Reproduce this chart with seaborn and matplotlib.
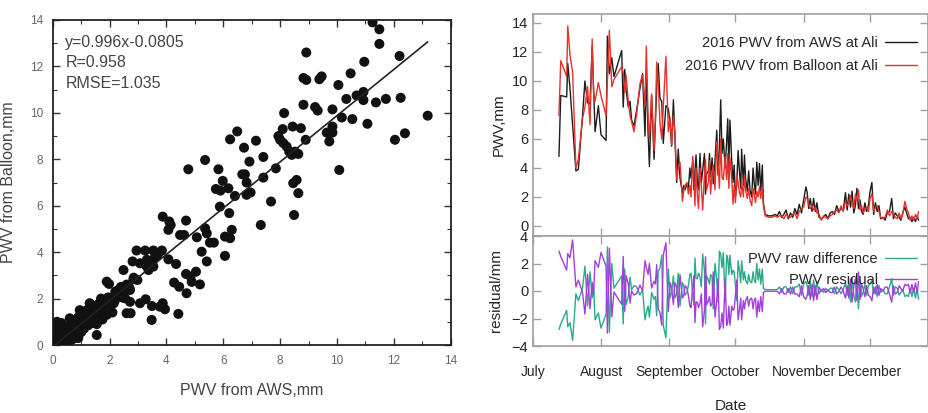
import numpy as np
import pandas as pd
import matplotlib
matplotlib.use("Agg")
import matplotlib.pyplot as plt
import matplotlib.dates as mdates
from matplotlib.ticker import MultipleLocator
import seaborn as sns

# ---------------- data: scatter (left) ----------------
aws_x = [11.25, 11.49, 11.49, 8.92, 12.2, 10.96, 8.82, 8.92, 9.38, 9.46, 10.48, 10.05, 10.93, 10.69,
         10.33, 10.93, 11.37, 11.72, 12.24, 8.82, 9.23, 9.32, 9.84, 10.17, 10.54, 11.07, 13.19, 8.14,
         8.44, 8.09, 8.73, 9.84, 9.64, 9.84, 12.39, 12.04, 9.73, 8.9, 6.24, 6.49, 7.15, 6.73, 7.94,
         8.0, 8.11, 8.23, 8.32, 8.52, 8.64, 8.41, 7.41, 6.92, 5.36, 4.77, 5.83, 10.08, 7.85, 6.67,
         6.76, 7.41, 6.82, 8.58, 8.46, 5.98, 5.74, 5.9, 6.18, 6.41, 6.82, 6.96, 8.64, 7.68, 5.88,
         6.21, 8.49, 7.32, 3.87, 4.1, 4.15, 4.69, 4.07, 5.36, 5.42, 4.48, 4.62, 5.07, 6.3, 6.06, 6.24,
         5.53, 5.67, 6.06, 4.07, 2.95, 3.25, 3.54, 3.84, 3.31, 3.4, 3.54, 3.07, 3.37, 4.34, 2.81, 5.42,
         5.24, 4.69, 4.85, 5.04, 4.27, 4.45, 4.71, 5.18, 4.89, 2.49, 1.9, 1.98, 2.31, 2.43, 2.55, 2.72,
         2.64, 2.84, 2.98, 3.07, 3.27, 3.49, 3.77, 3.87, 3.95, 3.48, 4.42, 2.6, 2.74, 2.72, 1.55,
         3.5, 3.6, 3.3, 3.7,
         2.2, 2.3, 2.4, 2.5, 2.6, 2.45, 2.7, 2.85, 2.2,
         0.05, 0.1, 0.15, 0.2, 0.25, 0.3, 0.35, 0.2, 0.15, 0.3, 0.4, 0.45, 0.5, 0.4, 0.55, 0.6, 0.65,
         0.7, 0.75, 0.8, 0.85, 0.9, 0.95, 1.0, 1.05, 1.1, 1.15, 1.2, 1.25, 1.3, 1.35, 1.4, 1.45, 1.5,
         1.55, 1.6, 1.65, 1.7, 1.75, 1.8, 1.85, 1.9, 1.95, 2.0, 2.05, 2.1, 2.15, 0.1, 0.25, 0.35,
         0.55, 0.6, 0.7, 1.0, 1.25, 0.9, 0.05, 0.12]
balloon_y = [13.9, 13.6, 12.97, 12.6, 12.45, 12.2, 11.5, 11.42, 11.45, 11.57, 11.7, 11.2, 10.9, 10.75,
             10.6, 10.55, 10.45, 10.6, 10.65, 10.35, 10.25, 10.1, 10.15, 9.8, 9.73, 9.53, 9.88, 9.99,
             9.41, 9.3, 9.34, 9.41, 9.15, 9.15, 9.12, 8.84, 8.77, 8.84, 8.86, 9.2, 8.8, 8.5, 9.0,
             8.84, 8.7, 8.55, 8.33, 8.33, 8.23, 8.19, 8.1, 7.9, 7.97, 7.57, 7.57, 7.54, 7.61, 7.35,
             7.35, 7.21, 7.0, 7.11, 6.97, 7.07, 6.72, 6.65, 6.75, 6.42, 6.47, 6.57, 6.54, 6.18, 5.96,
             5.68, 5.6, 5.17, 5.53, 5.32, 5.17, 5.36, 4.96, 5.03, 4.81, 4.74, 4.74, 4.64, 4.96, 4.67, 4.6,
             4.41, 4.41, 3.84, 3.69, 4.07, 4.07, 4.07, 4.07, 3.67, 3.52, 3.38, 3.52, 3.23, 3.49, 3.6, 3.6,
             4.02, 3.06, 2.95, 3.16, 2.69, 2.51, 2.23, 2.61, 2.72, 3.23, 2.73, 2.63, 2.37, 2.23, 2.01, 2.37,
             2.51, 2.83, 2.8, 1.8, 1.97, 1.68, 1.65, 1.8, 1.54, 1.08, 1.34, 1.37, 1.37, 1.86, 0.43,
             3.6, 3.8, 3.4, 3.9,
             2.3, 2.1, 2.5, 2.35, 2.6, 2.05, 2.45, 2.9, 1.95,
             0.05, 0.2, 0.1, 0.35, 0.05, 0.25, 0.5, 0.8, 1.0, 0.95, 0.15, 0.4, 0.7, 0.8, 0.3, 0.55, 0.9,
             0.6, 1.05, 0.45, 0.8, 1.2, 1.5, 0.9, 1.3, 0.7, 1.1, 1.5, 0.85, 1.8, 1.2, 0.95, 1.6, 1.3,
             0.9, 1.75, 1.4, 2.0, 1.1, 1.9, 1.6, 1.3, 2.05, 1.7, 1.95, 1.4, 1.8, 0.55, 0.65, 0.3,
             0.05, 1.15, 0.25, 0.55, 1.5, 0.3, 0.9, 0.4]
fit_slope = 0.996
fit_intercept = -0.0805
fit_text = ["y=0.996x-0.0805", "R=0.958", "RMSE=1.035"]

# ---------------- data: time series (right) ----------------
day_offsets = [11.8, 12.6, 15.3, 15.8, 16.8, 18.0, 19.5, 20.6, 22.5, 23.6, 24.8, 25.9, 26.9, 27.5, 28.2,
               29.7, 30.9, 33.2, 33.8, 34.7, 35.8, 36.8, 40.3, 41.0, 41.7, 42.3, 43.3, 44.1, 44.8, 45.9,
               47.1, 48.6, 49.8, 50.9, 51.5, 52.3, 52.9, 53.9, 55.0, 55.6, 56.2, 56.9, 57.7, 58.5, 59.2,
               60.4, 61.5, 62.3, 63.0, 63.8, 64.5, 65.3, 66.0, 66.8, 67.9, 68.5, 69.1, 70.0, 70.6, 71.3,
               71.8, 72.6, 73.1, 73.6, 74.1, 74.7, 75.2, 75.9, 76.5, 77.1, 77.9, 78.4, 78.9, 79.7, 80.2,
               80.7, 81.4, 81.9, 82.7, 83.5, 84.1, 84.7, 85.3, 85.9, 86.5, 87.3, 88.0, 88.5, 89.0, 89.5,
               90.3, 90.9, 91.4, 92.0, 92.6, 93.2, 93.8, 94.4, 94.8, 95.6, 96.1, 96.6, 97.4, 98.0, 98.6,
               99.4, 100.0, 100.5, 101.1, 101.7, 102.3, 102.9, 103.5, 104.2, 104.7, 105.5, 107.0, 108.5,
               110.0, 111.0, 112.0, 113.0, 114.0, 115.0, 116.0, 117.0, 118.0, 119.0, 120.0, 121.0, 122.0,
               123.0, 124.0, 124.6, 125.3, 126.0, 126.8, 127.5, 128.3, 129.0, 130.0, 131.0, 132.0, 133.0,
               134.0, 135.0, 136.0, 137.0, 138.0, 139.0, 140.0, 141.0, 142.0, 142.8, 143.5, 144.3, 145.0,
               145.8, 146.5, 147.2, 147.9, 148.6, 149.3, 150.0, 150.8, 151.6, 152.4, 153.2, 154.0, 154.8,
               155.6, 156.4, 157.2, 158.0, 159.0, 160.0, 161.0, 162.0, 163.0, 163.8, 164.6, 165.5, 166.4,
               167.2, 168.0, 169.0, 169.8, 170.6, 171.4, 172.2, 173.0, 173.8, 174.6, 175.2]
pwv_aws = [4.8, 9.0, 8.9, 11.2, 9.5, 7.0, 3.8, 3.9, 7.6, 10.0, 8.5, 8.4, 12.4, 9.6, 6.5,
           8.3, 6.3, 5.9, 13.1, 10.5, 11.6, 10.3, 12.1, 8.2, 10.8, 9.4, 8.2, 8.6, 7.3, 6.9,
           8.0, 9.5, 10.5, 6.2, 10.8, 6.4, 4.1, 9.0, 4.6, 7.0, 9.5, 11.2, 8.8, 8.6, 5.7,
           8.3, 8.1, 7.0, 5.5, 8.7, 6.0, 3.0, 5.3, 3.3, 2.3, 2.8, 2.5, 2.9, 2.6, 4.0,
           3.3, 4.5, 2.5, 3.8, 4.9, 3.0, 2.5, 5.0, 3.0, 3.8, 5.0, 2.2, 3.6, 3.8, 5.0,
           3.4, 4.7, 2.9, 4.5, 6.6, 3.5, 5.5, 8.7, 5.0, 6.0, 4.0, 5.8, 7.4, 3.8, 7.3,
           4.5, 3.0, 4.2, 2.0, 2.9, 5.2, 3.8, 2.6, 5.3, 2.8, 4.9, 3.3, 2.4, 3.8, 2.5,
           2.0, 4.0, 3.0, 2.2, 4.4, 2.8, 4.3, 2.4, 4.2, 1.6, 0.8, 0.7, 0.7,
           0.8, 0.7, 1.0, 0.6, 0.8, 1.1, 0.5, 0.9, 0.6, 1.2, 0.8, 1.5, 0.9,
           1.8, 2.7, 2.3, 1.2, 1.9, 1.0, 1.9, 1.0, 1.6, 0.6, 0.5, 0.6, 0.8,
           0.5, 0.9, 1.0, 0.8, 1.4, 1.0, 1.2, 1.1, 2.3, 1.1, 2.2, 1.3, 2.4,
           0.9, 1.4, 2.6, 1.2, 1.8, 1.0, 0.8, 1.6, 1.0, 1.4, 2.4, 3.0, 0.8,
           1.6, 1.0, 1.4, 0.5, 0.6, 0.4, 0.9, 1.0, 1.9, 0.5, 0.9, 0.7, 0.6,
           0.4, 0.9, 1.3, 0.9, 0.5, 0.6, 0.3, 0.6, 0.3, 0.7, 0.4]
pwv_balloon = [7.6, 11.4, 10.3, 13.8, 11.8, 10.6, 4.0, 4.6, 7.4, 8.2, 9.6, 7.0, 12.9, 9.2, 8.6,
               9.9, 9.0, 7.6, 9.9, 13.5, 9.6, 10.1, 11.0, 10.6, 9.2, 10.4, 8.6, 7.6, 7.2, 6.5,
               7.7, 9.8, 10.4, 8.3, 12.4, 7.5, 6.0, 9.1, 5.2, 7.4, 11.3, 9.8, 7.1, 6.0, 8.2,
               11.7, 6.5, 7.5, 5.6, 7.6, 6.5, 3.2, 4.0, 4.4, 1.7, 2.4, 2.8, 3.0, 2.2, 2.8,
               2.0, 4.8, 3.5, 1.4, 4.0, 2.1, 1.2, 4.0, 2.7, 1.1, 3.5, 4.6, 2.5, 3.0, 4.5,
               2.2, 3.7, 4.2, 2.5, 5.8, 4.3, 2.6, 6.0, 3.3, 3.2, 4.8, 3.2, 5.0, 2.6, 4.7,
               3.3, 1.5, 2.8, 1.6, 3.6, 3.0, 2.3, 2.0, 3.1, 2.0, 3.5, 2.5, 1.9, 2.6, 1.8,
               1.4, 2.6, 2.2, 1.6, 2.4, 2.0, 2.7, 1.9, 2.6, 1.4, 0.7, 0.6, 0.6,
               0.7, 0.6, 0.7, 0.7, 0.5, 0.8, 0.6, 0.6, 0.8, 0.9, 0.5, 1.0, 1.2,
               1.3, 2.0, 1.9, 1.5, 1.2, 1.4, 1.1, 1.3, 0.9, 0.8, 0.4, 0.7, 0.6,
               0.5, 0.7, 0.8, 1.0, 1.1, 0.9, 1.4, 1.0, 1.7, 1.4, 1.6, 2.1, 1.5,
               1.2, 2.2, 1.8, 2.5, 1.1, 1.4, 0.9, 1.1, 1.3, 1.0, 1.9, 2.2, 1.0,
               1.3, 1.4, 1.0, 0.6, 0.5, 0.6, 1.1, 0.7, 1.0, 0.8, 0.6, 0.5, 0.9,
               0.5, 0.8, 1.7, 1.2, 0.9, 0.4, 0.7, 0.4, 0.8, 0.5, 1.0]
month_labels = ["July", "August", "September", "October", "November", "December"]
series_labels = ["2016 PWV from AWS at Ali", "2016 PWV from Balloon at Ali"]
resid_labels = ["PWV raw difference", "PWV residual"]

# ---------------- derived tables ----------------
start = pd.Timestamp("2016-07-01")
dates = start + pd.to_timedelta(day_offsets, unit="D")
ts = pd.DataFrame({"date": dates, "aws": pwv_aws, "balloon": pwv_balloon})
ts["diff"] = ts["aws"] - ts["balloon"]
ts["resid"] = ts["balloon"] - (fit_slope * ts["aws"] + fit_intercept)
sc = pd.DataFrame({"aws": aws_x, "balloon": balloon_y})
xfit = np.array([min(aws_x), max(aws_x)])
fit_df = pd.DataFrame({"x": xfit, "y": fit_slope * xfit + fit_intercept})

# ---------------- style ----------------
sns.set_theme(style="white")
plt.rcParams["font.family"] = ["Liberation Sans", "DejaVu Sans"]
narrow = ["Liberation Sans Narrow", "Liberation Sans", "DejaVu Sans"]

fig = plt.figure(figsize=(9.29, 4.13), dpi=100)

# ---------------- left: scatter ----------------
ax1 = fig.add_axes([52.7 / 929, 1 - 345 / 413, 398 / 929, 325 / 413])
sns.scatterplot(data=sc, x="aws", y="balloon", ax=ax1, color="#111111", s=52,
                edgecolor="none", legend=False, zorder=3)
sns.lineplot(data=fit_df, x="x", y="y", ax=ax1, color="#222222", lw=1.2, zorder=4)
ax1.set_xlim(0, 14)
ax1.set_ylim(0, 14)
ax1.xaxis.set_major_locator(MultipleLocator(2))
ax1.yaxis.set_major_locator(MultipleLocator(2))
ax1.xaxis.set_minor_locator(MultipleLocator(1))
ax1.yaxis.set_minor_locator(MultipleLocator(1))
ax1.tick_params(which="both", direction="in", top=True, right=True, bottom=True, left=True,
                colors="#333333", labelcolor="#666666", labelsize=8.5)
ax1.tick_params(which="major", length=5, width=1.0, pad=7)
ax1.tick_params(which="minor", length=3, width=0.8)
for s in ax1.spines.values():
    s.set_color("#222222")
    s.set_linewidth(1.3)
ax1.set_xlabel("PWV from AWS,mm", fontsize=11.5, color="#444444", labelpad=12)
ax1.set_ylabel("PWV from Balloon,mm", fontsize=11.5, color="#444444", labelpad=10)
for i, t in enumerate(fit_text):
    ax1.text(0.032, 0.93 - i * 0.062, t, transform=ax1.transAxes, fontsize=11.5,
             color="#444444", va="center", ha="left")

# ---------------- right: time series ----------------
xl = (start, start + pd.Timedelta(days=179.5))
ax2 = fig.add_axes([533 / 929, 1 - 236 / 413, 395 / 929, 222 / 413])
ax3 = fig.add_axes([533 / 929, 1 - 346 / 413, 395 / 929, 110 / 413], sharex=ax2)

sns.lineplot(data=ts, x="date", y="aws", ax=ax2, color="#1c1c1c", lw=1.0,
             label=series_labels[0], zorder=2)
sns.lineplot(data=ts, x="date", y="balloon", ax=ax2, color="#e8312b", lw=1.0,
             label=series_labels[1], zorder=3)
ax2.set_ylim(-0.69, 14.62)
ax2.set_yticks(range(0, 15, 2))
ax2.set_ylabel("PWV,mm", fontsize=11, family=narrow, labelpad=4)
ax2.set_xlabel("")
ax2.legend(loc="upper right", bbox_to_anchor=(1.006, 0.96), frameon=False,
           markerfirst=False, handlelength=2.2, handletextpad=0.5,
           labelspacing=0.65, prop={"family": narrow, "size": 10.5})

sns.lineplot(data=ts, x="date", y="diff", ax=ax3, color="#2aaa8a", lw=1.0,
             label=resid_labels[0], zorder=2)
sns.lineplot(data=ts, x="date", y="resid", ax=ax3, color="#a23fdc", lw=1.0,
             label=resid_labels[1], zorder=3)
ax3.set_ylim(-4, 4)
ax3.set_yticks([-4, -2, 0, 2, 4])
ax3.set_ylabel("residual/mm", fontsize=11, family=narrow, labelpad=6)
ax3.set_xlabel("Date", fontsize=11, family=narrow, labelpad=14)
ax3.legend(loc="upper right", bbox_to_anchor=(1.006, 0.975), frameon=False,
           markerfirst=False, handlelength=2.2, handletextpad=0.5,
           labelspacing=0.5, prop={"family": narrow, "size": 10.5})

ax3.set_xlim(*xl)
ax3.xaxis.set_major_locator(mdates.MonthLocator())
ax3.set_xticks(ax3.get_xticks())
ax3.set_xticklabels(month_labels)
plt.setp(ax2.get_xticklabels(), visible=False)

for ax in (ax2, ax3):
    for s in ax.spines.values():
        s.set_color("#a0a0a0")
        s.set_linewidth(1.2)
    ax.tick_params(which="major", direction="in", length=6, width=1.0, color="#a0a0a0",
                   top=True, right=True, bottom=True, left=True, labelsize=10.5)
    for lab in ax.get_yticklabels() + ax.get_xticklabels():
        lab.set_family(narrow)
ax3.tick_params(axis="x", pad=14, labelsize=10)

fig.savefig("out.png", dpi=100)
